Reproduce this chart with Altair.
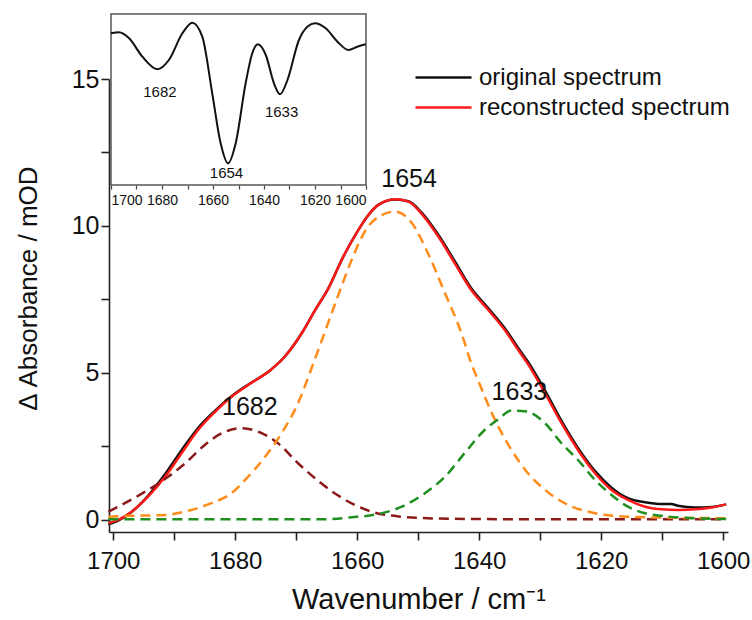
import altair as alt
import pandas as pd

FONT = "Liberation Sans"

# ---------------- main spectra ----------------
wn_rec = [1700.8, 1699.2, 1697.0, 1694.3, 1691.5, 1688.8, 1686.1, 1683.3, 1680.6, 1677.9,
          1674.2, 1671.9, 1669.1, 1666.9, 1664.8, 1662.3, 1660.0, 1658.5, 1656.6, 1653.8,
          1651.6, 1649.5, 1646.7, 1644.0, 1641.3, 1638.5, 1635.8, 1633.6, 1632.0, 1629.2,
          1626.5, 1623.8, 1621.0, 1618.3, 1615.6, 1612.8, 1610.1, 1607.4, 1604.6, 1601.9, 1599.5]
rec = [-0.11, 0.00, 0.28, 0.79, 1.47, 2.27, 3.06, 3.68, 4.19, 4.59,
       5.10, 5.55, 6.35, 7.14, 7.85, 8.95, 9.80, 10.28, 10.71, 10.91,
       10.83, 10.43, 9.64, 8.73, 7.82, 7.14, 6.46, 5.78, 5.30, 4.31,
       3.29, 2.38, 1.59, 1.02, 0.68, 0.45, 0.36, 0.34, 0.36, 0.42, 0.53]

wn_orig = [1700.8, 1699.2, 1697.0, 1694.3, 1691.5, 1688.8, 1686.1, 1683.3, 1680.6, 1677.9,
           1674.2, 1671.9, 1669.1, 1666.9, 1664.8, 1662.3, 1660.0, 1658.5, 1656.6, 1653.8,
           1651.6, 1649.5, 1646.7, 1644.0, 1641.3, 1638.5, 1635.8, 1633.6, 1632.0, 1629.2,
           1626.5, 1623.8, 1621.0, 1618.3, 1615.6, 1612.8, 1610.1, 1608.5, 1607.4, 1604.6,
           1601.9, 1599.5]
orig = [-0.15, -0.02, 0.27, 0.82, 1.56, 2.37, 3.13, 3.72, 4.21, 4.60,
        5.10, 5.55, 6.35, 7.14, 7.85, 8.95, 9.80, 10.28, 10.71, 10.90,
        10.84, 10.47, 9.70, 8.80, 7.88, 7.20, 6.52, 5.85, 5.38, 4.40,
        3.37, 2.45, 1.66, 1.10, 0.74, 0.60, 0.54, 0.54, 0.48, 0.42,
        0.44, 0.53]

# ---------------- fitted components ----------------
wn_b1654 = [1700.8, 1697.0, 1691.5, 1687.2, 1683.9, 1680.6, 1677.9, 1675.1, 1672.4, 1669.7,
            1667.6, 1665.3, 1663.1, 1660.9, 1658.5, 1656.0, 1653.8, 1651.1, 1648.4, 1645.6,
            1642.9, 1641.3, 1640.2, 1637.4, 1634.7, 1632.0, 1629.2, 1625.4, 1621.0, 1615.6,
            1610.1, 1599.5]
b1654 = [0.11, 0.14, 0.17, 0.34, 0.57, 0.91, 1.47, 2.15, 2.95, 3.97,
         5.10, 6.40, 7.65, 8.85, 9.90, 10.37, 10.49, 10.12, 9.07, 7.71,
         6.35, 5.33, 4.76, 3.40, 2.38, 1.59, 1.02, 0.51, 0.23, 0.11,
         0.08, 0.06]

wn_b1633 = [1700.8, 1690.0, 1680.0, 1670.0, 1666.4, 1660.9, 1656.6, 1652.7, 1648.9, 1645.6,
            1642.4, 1639.1, 1636.9, 1634.7, 1632.5, 1629.2, 1626.5, 1623.8, 1621.0, 1618.3,
            1615.6, 1612.8, 1610.1, 1604.6, 1599.5]
b1633 = [0.02, 0.02, 0.02, 0.02, 0.02, 0.09, 0.20, 0.45, 0.91, 1.47,
         2.27, 3.06, 3.42, 3.72, 3.70, 3.29, 2.61, 2.04, 1.36, 0.85,
         0.45, 0.23, 0.14, 0.06, 0.03]

wn_b1682 = [1700.8, 1698.1, 1694.3, 1691.0, 1688.2, 1685.0, 1682.2, 1679.0, 1676.2, 1673.0,
            1669.7, 1666.4, 1663.7, 1660.4, 1657.1, 1652.7, 1647.0, 1640.0, 1620.0, 1599.5]
b1682 = [0.28, 0.57, 1.02, 1.47, 1.93, 2.55, 2.95, 3.12, 3.00, 2.61,
         1.93, 1.33, 0.91, 0.51, 0.25, 0.11, 0.05, 0.03, 0.02, 0.02]

peak_labels = ["1682", "1654", "1633"]
peak_label_x = [1677.6, 1651.5, 1633.4]
peak_label_y = [3.85, 11.6, 4.35]

# ---------------- inset: second derivative (arb. units) ----------------
wn_d2 = [1700.0, 1696.9, 1692.9, 1687.7, 1681.8, 1677.3, 1672.0, 1668.1, 1664.2, 1660.3,
         1657.0, 1654.1, 1651.1, 1647.2, 1644.6, 1642.4, 1639.3, 1636.1, 1633.7, 1630.8,
         1626.3, 1623.0, 1620.0, 1615.8, 1611.2, 1606.9, 1603.4, 1600.1]
d2 = [151.7, 152.7, 146.7, 128.3, 115.7, 125.0, 151.7, 162.3, 148.3, 91.7,
      41.7, 21.7, 41.7, 101.7, 131.7, 140.7, 130.0, 101.7, 90.7, 105.0,
      145.0, 158.3, 161.7, 156.7, 143.3, 135.0, 138.3, 140.7]
inset_labels = ["1682", "1654", "1633"]
inset_label_x = [1680.8, 1654.7, 1633.1]
inset_label_y = [93.3, 12.0, 73.0]
inset_xdomain = [1700, 1600]
inset_ydomain = [0, 171]

x_domain = [1700.7, 1599.2]
y_domain = [-0.41, 15.0]
x_ticks = list(range(1700, 1599, -10))
y_ticks = [0, 2.5, 5, 7.5, 10, 12.5, 15]
series_names = ["original spectrum", "reconstructed spectrum"]
series_colors = ["#111111", "#ff1a1a"]

W, H = 619, 453

spec = pd.concat([
    pd.DataFrame({"wn": wn_orig, "val": orig, "series": series_names[0]}),
    pd.DataFrame({"wn": wn_rec, "val": rec, "series": series_names[1]}),
])

AX = dict(domainColor="#222222", domainWidth=1.6, tickColor="#222222", tickWidth=1.6,
          tickSize=8, labelFont=FONT, labelColor="#111111",
          titleFont=FONT, titleColor="#111111", titleFontWeight="normal", grid=False)

xm = alt.X("wn:Q", scale=alt.Scale(domain=x_domain, nice=False, zero=False),
           axis=alt.Axis(values=x_ticks,
                         labelExpr="datum.value % 20 == 0 ? '' + datum.value : ''",
                         title="Wavenumber / cm⁻¹", titleFontSize=29, labelFontSize=24,
                         labelPadding=9, titlePadding=12, **AX))
ym = alt.Y("val:Q", scale=alt.Scale(domain=y_domain, nice=False, zero=False),
           axis=alt.Axis(values=y_ticks,
                         labelExpr="datum.value % 5 == 0 ? '' + datum.value : ''",
                         title="Δ Absorbance / mOD", titleFontSize=26, labelFontSize=25,
                         labelPadding=2, titleX=-68, titleY=209, **AX))

spectra = alt.Chart(spec).mark_line(strokeWidth=2.5, interpolate="monotone").encode(
    x=xm, y=ym,
    color=alt.Color("series:N", scale=alt.Scale(domain=series_names, range=series_colors),
                    legend=alt.Legend(orient="none", legendX=319, legendY=-17, title=None,
                                      labelFont=FONT, labelFontSize=24, labelColor="#111111",
                                      labelLimit=500,
                                      symbolType="M-2,0H2", symbolSize=784,
                                      symbolStrokeWidth=2.5, padding=0, rowPadding=2,
                                      labelOffset=20)),
    detail="series:N",
)

def comp(wn, vals, color):
    df = pd.DataFrame({"wn": wn, "val": vals})
    return alt.Chart(df).mark_line(strokeWidth=2.5, strokeDash=[10, 6], color=color,
                                   interpolate="monotone").encode(
        x=alt.X("wn:Q"), y=alt.Y("val:Q"))

c1682 = comp(wn_b1682, b1682, "#8b1a1a")
c1654 = comp(wn_b1654, b1654, "#ff8c1a")
c1633 = comp(wn_b1633, b1633, "#1f8f1f")

plabels = alt.Chart(pd.DataFrame({"wn": peak_label_x, "val": peak_label_y, "t": peak_labels})).mark_text(
    font=FONT, fontSize=25, color="#111111", baseline="middle", align="center").encode(
    x=alt.X("wn:Q"), y=alt.Y("val:Q"), text="t:N")

main = alt.layer(spectra, c1682, c1654, c1633, plabels)

# ---------------- inset ----------------
IX_AXIS = alt.Axis(orient="bottom", offset=-347, values=x_ticks,
                   labelExpr="datum.value % 20 == 0 ? '' + datum.value : ''", title=None,
                   domain=False, tickSize=4, tickColor="#444444", tickWidth=1.2,
                   labelFont=FONT, labelFontSize=14, labelColor="#111111", labelPadding=4,
                   grid=False)
ix_scale = alt.Scale(domain=inset_xdomain, range=[2, 257], nice=False, zero=False)
iy_scale = alt.Scale(domain=inset_ydomain, range=[106, -65], nice=False, zero=False)

frame_df = pd.DataFrame({"x1": [inset_xdomain[0]], "x2": [inset_xdomain[1]],
                         "y1": [inset_ydomain[0]], "y2": [inset_ydomain[1]]})
frame = alt.Chart(frame_df).mark_rect(fill="white", stroke="#555555", strokeWidth=1.5).encode(
    x=alt.X("x1:Q", scale=ix_scale, axis=IX_AXIS), x2="x2",
    y=alt.Y("y1:Q", scale=iy_scale, axis=None), y2="y2")

d2line = alt.Chart(pd.DataFrame({"x1": wn_d2, "y1": d2})).mark_line(
    color="#111111", strokeWidth=2, interpolate="monotone").encode(
    x=alt.X("x1:Q", scale=ix_scale, axis=IX_AXIS),
    y=alt.Y("y1:Q", scale=iy_scale, axis=None))

ilabels = alt.Chart(pd.DataFrame({"x1": inset_label_x, "y1": inset_label_y, "t": inset_labels})).mark_text(
    font=FONT, fontSize=15, color="#111111", baseline="middle", align="center").encode(
    x=alt.X("x1:Q", scale=ix_scale, axis=IX_AXIS),
    y=alt.Y("y1:Q", scale=iy_scale, axis=None), text="t:N")

inset = alt.layer(frame, d2line, ilabels)

chart = alt.layer(main, inset).resolve_scale(x="independent", y="independent").properties(
    width=W, height=H, padding={"left": 15, "top": 13, "right": 0, "bottom": 0},
    background="white",
).configure_view(stroke=None)

chart.save("out.html", embed_options={"renderer": "svg", "actions": False})
